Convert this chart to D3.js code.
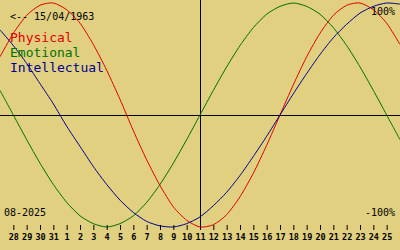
<!DOCTYPE html>
<html>
<head>
<meta charset="utf-8">
<script src="https://cdn.jsdelivr.net/npm/d3@7"></script>
<style>
  body { margin: 0; background: #e0d080; }
  svg { display: block; }
  text { font-family: "DejaVu Sans Mono", monospace; }
</style>
</head>
<body>
<div id="chart"></div>
<script>
var svgWidth = 400;
var svgHeight = 250;

// day labels under the ticks (end of July, then August)
var dayLabels = ["28", "29", "30", "31", "1", "2", "3", "4", "5", "6", "7", "8", "9", "10",
    "11", "12", "13", "14", "15", "16", "17", "18", "19", "20", "21", "22", "23", "24", "25"];

// values, one per day, from the left edge to the right edge
var physical = [0.52, 0.73, 0.89, 0.98, 1.0, 0.94, 0.82, 0.63, 0.40, 0.14, -0.14, -0.40, -0.63, -0.82, -0.94,
    -1.0, -0.98, -0.89, -0.73, -0.52, -0.27, 0.0, 0.27, 0.52, 0.73, 0.89, 0.98, 1.0, 0.94, 0.82, 0.63];
var emotional = [0.22, 0.0, -0.22, -0.43, -0.62, -0.78, -0.90, -0.97, -1.0, -0.97, -0.90, -0.78, -0.62, -0.43, -0.22,
    0.0, 0.22, 0.43, 0.62, 0.78, 0.90, 0.97, 1.0, 0.97, 0.90, 0.78, 0.62, 0.43, 0.22, 0.0, -0.22];
var intellectual = [0.76, 0.62, 0.46, 0.28, 0.10, -0.10, -0.28, -0.46, -0.62, -0.76, -0.87, -0.95, -0.99, -1.0, -0.97,
    -0.91, -0.81, -0.69, -0.54, -0.37, -0.19, 0.0, 0.19, 0.37, 0.54, 0.69, 0.81, 0.91, 0.97, 1.0, 0.99];

var series = [
    { name: "Physical", values: physical, color: "#e00000" },
    { name: "Emotional", values: emotional, color: "#007000" },
    { name: "Intellectual", values: intellectual, color: "#000090" }
];

var svg = d3.select("#chart")
    .append("svg")
    .attr("width", svgWidth)
    .attr("height", svgHeight);

svg.append("rect")
    .attr("width", svgWidth)
    .attr("height", svgHeight)
    .attr("fill", "#e0d080");

var xScale = d3.scaleLinear()
    .domain([0, physical.length - 1])
    .range([0, svgWidth]);

var yScale = d3.scaleLinear()
    .domain([-1, 1])
    .range([227, 3]);

// cross lines
svg.append("line")
    .attr("x1", 0).attr("x2", svgWidth)
    .attr("y1", yScale(0) + 0.5).attr("y2", yScale(0) + 0.5)
    .attr("stroke", "black");

svg.append("line")
    .attr("x1", xScale(15) + 0.5).attr("x2", xScale(15) + 0.5)
    .attr("y1", 0).attr("y2", 227)
    .attr("stroke", "black");

// curves
var line = d3.line()
    .x((d, i) => xScale(i))
    .y(d => yScale(d))
    .curve(d3.curveCardinal.tension(0.3));

svg.selectAll(".curve")
    .data(series)
    .enter()
    .append("path")
    .attr("class", "curve")
    .attr("d", d => line(d.values))
    .attr("fill", "none")
    .attr("stroke", d => d.color)
    .attr("stroke-width", 1);

// day axis
var bottomAxis = d3.axisBottom(xScale)
    .tickValues(d3.range(1, dayLabels.length + 1))
    .tickFormat((d, i) => dayLabels[i])
    .tickSize(5);

var axisGroup = svg.append("g")
    .attr("transform", "translate(0, 225)")
    .call(bottomAxis);

axisGroup.select(".domain").remove();
axisGroup.selectAll("line").attr("stroke", "black");
axisGroup.selectAll("text")
    .attr("y", 15)
    .attr("dy", 0)
    .attr("fill", "black")
    .attr("font-family", "DejaVu Sans Mono")
    .attr("font-weight", "bold")
    .attr("font-size", "8.5px");

// legend
svg.selectAll(".legend")
    .data(series)
    .enter()
    .append("text")
    .attr("x", 10)
    .attr("y", (d, i) => 42 + i * 15)
    .attr("font-size", "13px")
    .attr("fill", d => d.color)
    .text(d => d.name);

svg.append("text")
    .attr("x", 10).attr("y", 20)
    .attr("font-size", "10px")
    .text("<-- 15/04/1963");

svg.append("text")
    .attr("x", 395).attr("y", 15)
    .attr("text-anchor", "end")
    .attr("font-size", "10px")
    .text("100%");

svg.append("text")
    .attr("x", 395).attr("y", 216)
    .attr("text-anchor", "end")
    .attr("font-size", "10px")
    .text("-100%");

svg.append("text")
    .attr("x", 4).attr("y", 216)
    .attr("font-size", "10px")
    .text("08-2025");
</script>
</body>
</html>
